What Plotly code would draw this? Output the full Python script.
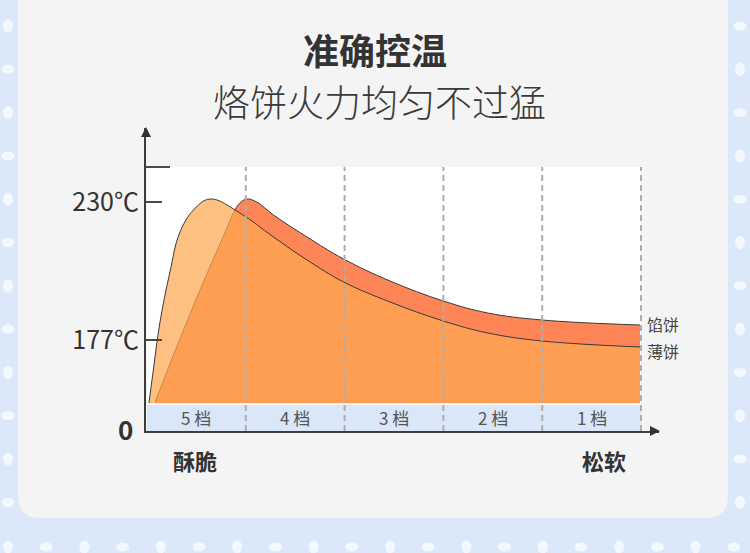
import plotly.graph_objects as go

# ---------------- data ----------------
gears = ["5 档", "4 档", "3 档", "2 档", "1 档"]
gear_pos = [0.5, 1.5, 2.5, 3.5, 4.5]
gear_bounds = [1, 2, 3, 4, 5]

# schematic heat level (height above the axis), x in gear segments
xianbing_x = [0.08, 0.26, 0.44, 0.61, 0.77, 0.89, 0.94, 1.01, 1.11, 1.28, 1.62, 1.99, 2.46, 3.0, 3.45, 4.0, 4.99]
xianbing_y = [28, 74, 118, 158, 194, 221, 228, 232, 229, 216, 194, 172, 150, 130, 118, 111, 106]
baobing_x = [0.02, 0.06, 0.13, 0.23, 0.33, 0.47, 0.64, 0.94, 1.28, 1.62, 1.99, 2.46, 3.0, 3.45, 4.0, 4.99]
baobing_y = [28, 58, 108, 158, 198, 221, 232, 218, 194, 171, 149, 129, 110, 98, 90, 84]

tick_vals = [91, 229]
tick_text = ["177℃", "230℃"]
top_level = 264
band_top = 27
series_names = ["馅饼", "薄饼"]

W, H = 750, 553
FONT = "Noto Sans CJK SC"


def px(x):
    return x / W


def py(y):
    return 1 - y / H


fig = go.Figure()

fig.add_trace(go.Scatter(
    x=xianbing_x, y=xianbing_y, mode="lines", name=series_names[0],
    line=dict(shape="spline", smoothing=1.1, color="#3a3a3a", width=1),
    fill="tozeroy", fillcolor="#fe8556", hoverinfo="skip"))
fig.add_trace(go.Scatter(
    x=baobing_x, y=baobing_y, mode="lines", name=series_names[1],
    line=dict(shape="spline", smoothing=1.1, color="#3a3a3a", width=1),
    fill="tozeroy", fillcolor="rgba(254,168,80,0.72)", hoverinfo="skip"))

shapes = []
# card
r = 22
x0, x1, y0, y1 = 18, 728, -5, 518
card_path = (f"M {px(x0)} {py(y0)} L {px(x1)} {py(y0)} L {px(x1)} {py(y1 - r)} "
             f"Q {px(x1)} {py(y1)} {px(x1 - r)} {py(y1)} L {px(x0 + r)} {py(y1)} "
             f"Q {px(x0)} {py(y1)} {px(x0)} {py(y1 - r)} Z")
shapes.append(dict(type="path", path=card_path, xref="paper", yref="paper",
                   fillcolor="#f4f4f4", line=dict(width=0), layer="below"))


def dot(cx, cy, tall):
    w, h = (5, 6.5) if tall else (6.5, 4.5)
    return dict(type="circle", xref="paper", yref="paper",
                x0=px(cx - w), x1=px(cx + w), y0=py(cy + h), y1=py(cy - h),
                fillcolor="#f3f8fe", line=dict(width=0), layer="below")


for k in range(12):
    cy = 26 + 43.3 * k
    shapes.append(dot(8, cy, k % 2 == 0))
    shapes.append(dot(740, cy, k % 2 == 1))
for k in range(20):
    shapes.append(dot(8 + 38.2 * k, 547, k % 2 == 0))

# white plotting area
shapes.append(dict(type="rect", xref="x", yref="y", x0=0, x1=gear_bounds[-1],
                   y0=0, y1=top_level, fillcolor="white", line=dict(width=0),
                   layer="below"))
# gear band
shapes.append(dict(type="rect", xref="x", yref="y", x0=0, x1=gear_bounds[-1],
                   y0=0, y1=band_top, fillcolor="#d9e7f8",
                   line=dict(width=0), layer="above"))
shapes.append(dict(type="line", xref="x", yref="y", x0=0, x1=gear_bounds[-1],
                   y0=band_top, y1=band_top, line=dict(color="white", width=1.5),
                   layer="above"))
# dashed separators
for b in gear_bounds:
    shapes.append(dict(type="line", xref="x", yref="y", x0=b, x1=b, y0=0,
                       y1=top_level, line=dict(color="#aeaeae", width=2,
                                               dash="6px,4px"), layer="above"))
# top tick
shapes.append(dict(type="line", xref="paper", yref="y", x0=px(146), x1=px(170),
                   y0=top_level, y1=top_level, line=dict(color="#4a4a4a", width=2)))
# arrowheads
shapes.append(dict(type="path", xref="paper", yref="paper",
                   path=f"M {px(660)} {py(431)} L {px(650)} {py(426)} L {px(650)} {py(436)} Z",
                   fillcolor="#333", line=dict(width=0)))
shapes.append(dict(type="path", xref="paper", yref="paper",
                   path=f"M {px(146)} {py(127)} L {px(141)} {py(137)} L {px(151)} {py(137)} Z",
                   fillcolor="#333", line=dict(width=0)))


def label(text, x, y, size, color="#333333", weight="normal"):
    return dict(text=text, xref="paper", yref="paper", x=px(x), y=py(y),
                xanchor="center", yanchor="middle", showarrow=False,
                font=dict(family=FONT, size=size, color=color, weight=weight))


annotations = [
    label("准确控温", 375, 49, 36, weight="bold"),
    label("烙饼火力均匀不过猛", 379, 101, 37, color="#3a3a3a", weight=300),
    label("0", 125, 428, 26, weight="bold"),
    label("酥脆", 195, 460, 22, weight="bold"),
    label("松软", 604, 460, 22, weight="bold"),
]
for g, xp in zip(gears, gear_pos):
    annotations.append(dict(text=g, xref="x", yref="y", x=xp, y=band_top / 2,
                            xanchor="center", yanchor="middle", showarrow=False,
                            font=dict(family=FONT, size=17, color="#555555")))
for name, xs, ys, shift in [(series_names[0], xianbing_x, xianbing_y, 1),
                            (series_names[1], baobing_x, baobing_y, -4)]:
    annotations.append(dict(text=name, xref="x", yref="y", x=xs[-1], y=ys[-1],
                            xanchor="left", yanchor="middle", xshift=5, yshift=shift,
                            showarrow=False,
                            font=dict(family=FONT, size=16, color="#444444")))

fig.update_layout(
    width=W, height=H, margin=dict(l=0, r=0, t=0, b=0),
    paper_bgcolor="#dae8fa", plot_bgcolor="rgba(0,0,0,0)",
    showlegend=False, shapes=shapes, annotations=annotations,
    xaxis=dict(domain=[px(146), px(659)], range=[(146 - 147) / 98.8, (659 - 147) / 98.8],
               showgrid=False, zeroline=False, showticklabels=False, ticks="",
               showline=True, linecolor="#3c3c3c", linewidth=2, fixedrange=True),
    yaxis=dict(domain=[py(431), py(128)], range=[0, 303],
               showgrid=False, zeroline=False, tickvals=tick_vals, ticktext=tick_text,
               ticks="inside", ticklen=16, tickwidth=2, tickcolor="#4a4a4a",
               tickfont=dict(family=FONT, size=25, color="#333333"),
               ticklabelstandoff=0,
               showline=True, linecolor="#3c3c3c", linewidth=2, fixedrange=True),
)

fig.write_html("out.html", config={"displayModeBar": False},
               post_script="document.body.style.margin='0';")
